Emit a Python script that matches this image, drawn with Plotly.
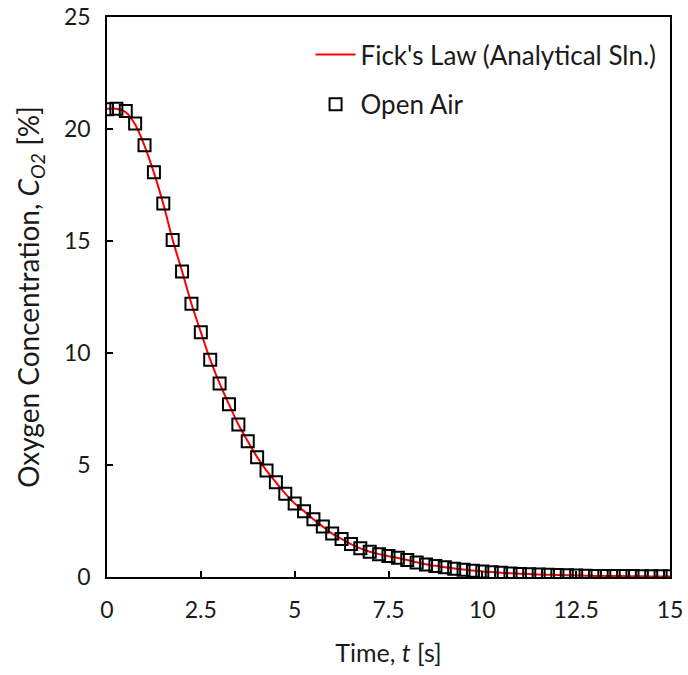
import plotly.graph_objects as go

# time grid [s] and measured oxygen concentration [%] (open air)
time_s = [0, 0.25, 0.5, 0.75, 1.0, 1.25, 1.5, 1.75, 2.0, 2.25, 2.5, 2.75, 3.0, 3.25, 3.5, 3.75,
          4.0, 4.25, 4.5, 4.75, 5.0, 5.25, 5.5, 5.75, 6.0, 6.25, 6.5, 6.75, 7.0, 7.25, 7.5, 7.75,
          8.0, 8.25, 8.5, 8.75, 9.0, 9.25, 9.5, 9.75, 10.0, 10.25, 10.5, 10.75, 11.0, 11.25, 11.5,
          11.75, 12.0, 12.25, 12.5, 12.75, 13.0, 13.25, 13.5, 13.75, 14.0, 14.25, 14.5, 14.75, 15.0]
open_air = [20.88, 20.9, 20.8, 20.25, 19.27, 18.07, 16.67, 15.04, 13.64, 12.2, 10.93, 9.7, 8.64,
            7.71, 6.81, 6.06, 5.35, 4.75, 4.23, 3.72, 3.28, 2.94, 2.58, 2.25, 1.94, 1.7, 1.47, 1.28,
            1.13, 1.02, 0.94, 0.86, 0.76, 0.65, 0.56, 0.49, 0.43, 0.37, 0.32, 0.28, 0.24, 0.21, 0.19,
            0.16, 0.13, 0.12, 0.11, 0.1, 0.09, 0.08, 0.07, 0.06, 0.05, 0.05, 0.04, 0.04, 0.04, 0.03,
            0.03, 0.03, 0.03]

# analytical solution (Fick's law)
fick_t = time_s
fick_c = [20.9, 20.9, 20.75, 20.2, 19.25, 18.05, 16.65, 15.05, 13.65, 12.2, 10.93, 9.7, 8.64,
          7.71, 6.81, 6.06, 5.35, 4.75, 4.23, 3.72, 3.28, 2.94, 2.58, 2.25, 1.94, 1.7, 1.47, 1.28,
          1.13, 1.02, 0.93, 0.85, 0.76, 0.66, 0.57, 0.5, 0.44, 0.38, 0.33, 0.29, 0.25, 0.22, 0.19,
          0.17, 0.15, 0.13, 0.11, 0.1, 0.09, 0.08, 0.07, 0.06, 0.05, 0.05, 0.04, 0.04, 0.03, 0.03,
          0.02, 0.02, 0.02]

x_ticks = [0, 2.5, 5, 7.5, 10, 12.5, 15]
y_ticks = [0, 5, 10, 15, 20, 25]

font_name = "Lato"

fig = go.Figure()
fig.add_trace(go.Scatter(x=fick_t, y=fick_c, mode='lines', name="Fick's Law (Analytical Sln.)",
                         legendgroup='a', line=dict(color='#ff0000', width=2, shape='spline')))
fig.add_trace(go.Scatter(x=time_s, y=open_air, mode='markers', name='Open Air', legendgroup='b',
                         marker=dict(symbol='square-open', size=12, color='black',
                                     line=dict(color='black', width=2))))

axis_common = dict(showline=True, linecolor='black', linewidth=1.5, mirror=True,
                   ticks='inside', ticklen=6, tickwidth=1.5, tickcolor='black',
                   showgrid=False, zeroline=False, automargin=False,
                   ticklabeloverflow='allow',
                   tickfont=dict(family=font_name, size=23, color='#1a1a1a'))

fig.update_layout(
    width=688, height=675,
    margin=dict(l=107, r=18, t=17, b=98),
    plot_bgcolor='white', paper_bgcolor='white',
    font=dict(family=font_name, color='#1a1a1a'),
    xaxis=dict(range=[0, 15], tickvals=x_ticks, ticktext=[str(v) for v in x_ticks],
               ticklabelstandoff=12,
               title=dict(text='Time, <i>t</i> [s]', font=dict(size=25), standoff=22),
               **axis_common),
    yaxis=dict(range=[0, 25], tickvals=y_ticks, ticklabelstandoff=10,
               title=dict(text='Oxygen Concentration, <i>C</i><sub><i>O2</i></sub> [%]',
                          font=dict(size=28), standoff=16),
               **axis_common),
    legend=dict(x=0.985, y=0.975, xanchor='right', yanchor='top', bgcolor='rgba(0,0,0,0)',
                font=dict(family=font_name, size=26), itemwidth=40, tracegroupgap=13),
    showlegend=True,
)

# drop the default page margin so the figure sits at the window's corner
fig.write_html("out.html", config={'displayModeBar': False},
               post_script="document.body.style.margin='0';")
